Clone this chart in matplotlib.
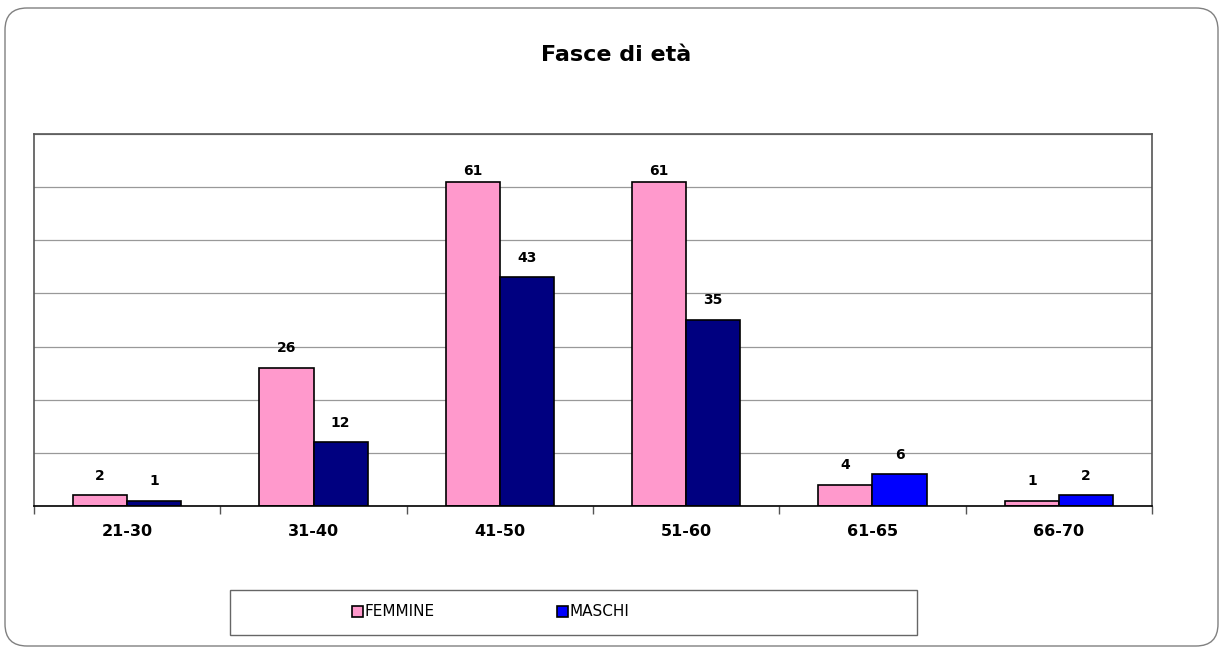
import numpy as np
import matplotlib
matplotlib.use('Agg')
from matplotlib import pyplot as plt
from matplotlib.patches import FancyBboxPatch, Rectangle, Patch

# dati: fasce di eta
categorie = ['21-30', '31-40', '41-50', '51-60', '61-65', '66-70']
femmine = [2, 26, 61, 61, 4, 1]
maschi = [1, 12, 43, 35, 6, 2]
colori_maschi = ['#000080', '#000080', '#000080', '#000080', '#0000FF', '#0000FF']
ROSA = '#FF99CC'

plt.rcParams['font.family'] = ['DejaVu Sans']

fig = plt.figure(figsize=(12.24, 6.51), dpi=100)

# cornice arrotondata del grafico
cornice = FancyBboxPatch((0.05, 0.05), 12.13, 6.38,
                         boxstyle='round,pad=0,rounding_size=0.22',
                         transform=fig.dpi_scale_trans,
                         facecolor='none', edgecolor='#808080', linewidth=1.0)
fig.patches.append(cornice)

ax = fig.add_axes([34 / 1224, 1 - 506 / 651, (1152 - 34) / 1224, (506 - 134) / 651])
ax.set_facecolor('none')

x = np.arange(len(categorie))
w = 0.29
b1 = ax.bar(x - w / 2, femmine, w, color=ROSA, edgecolor='black', linewidth=1.2, zorder=3)
b2 = ax.bar(x + w / 2, maschi, w, color=colori_maschi, edgecolor='black', linewidth=1.2, zorder=3)

for bars, vals in ((b1, femmine), (b2, maschi)):
    for r, v in zip(bars, vals):
        off = 3 if v > 55 else 9  # etichette alte restano dentro il riquadro
        ax.annotate(str(v), (r.get_x() + r.get_width() / 2, r.get_height()),
                    xytext=(0, off), textcoords='offset points',
                    ha='center', va='bottom', fontsize=10, fontweight='bold')

ax.set_xlim(-0.5, len(categorie) - 0.5)
ax.set_ylim(0, 70)
ax.set_yticks(np.arange(0, 71, 10))
ax.yaxis.grid(True, color='#999999', linewidth=0.9, zorder=0)
ax.tick_params(axis='y', length=0, labelleft=False)

ax.set_xticks(x)
ax.set_xticklabels(categorie, fontsize=11.5, fontweight='bold')
ax.set_xticks(np.arange(-0.5, len(categorie), 1), minor=True)
ax.tick_params(axis='x', which='major', length=0, pad=13)
ax.tick_params(axis='x', which='minor', length=6, color='#555555', width=1)

for s in ('left', 'top', 'right'):
    ax.spines[s].set_color('#555555')
    ax.spines[s].set_linewidth(1.2)
ax.spines['bottom'].set_color('black')
ax.spines['bottom'].set_linewidth(1.2)
ax.spines['bottom'].set_zorder(4)

fig.text(616 / 1224, 1 - 55 / 651, 'Fasce di età', ha='center', va='center',
         fontsize=16, fontweight='bold')

# legenda
box = Rectangle((230 / 1224, 1 - 635 / 651), (917 - 230) / 1224, 45 / 651,
                transform=fig.transFigure, facecolor='white',
                edgecolor='#666666', linewidth=1.0)
fig.patches.append(box)
handles = [Patch(facecolor=ROSA, edgecolor='black', linewidth=1.2, label='FEMMINE'),
           Patch(facecolor='#0000FF', edgecolor='black', linewidth=1.2, label='MASCHI')]
fig.legend(handles=handles, loc='center', bbox_to_anchor=(0.401, 1 - 612 / 651),
           ncol=2, frameon=False, fontsize=11, handlelength=0.7, handleheight=0.7,
           handletextpad=0.1, columnspacing=8.0)

fig.savefig('out.png', dpi=100)
